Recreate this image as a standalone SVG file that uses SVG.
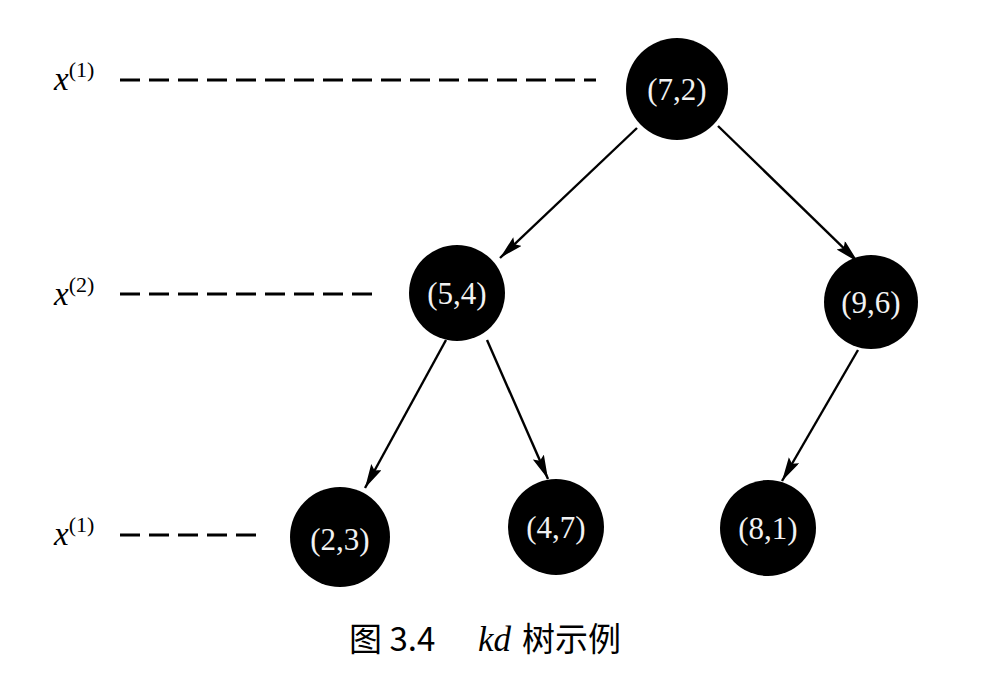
<svg xmlns="http://www.w3.org/2000/svg" width="986" height="694" viewBox="0 0 986 694">
<style>
.node{fill:#000}
.nt{fill:#f2f2f2;font-family:"Liberation Serif",serif;font-size:31px;text-anchor:middle}
.edge{stroke:#000;stroke-width:2.4;fill:none;marker-end:url(#ah)}
.dash{stroke:#000;stroke-width:2.8;stroke-dasharray:20 9;fill:none}
.lbl{font-family:"Liberation Serif",serif;font-size:33px;font-style:italic}
.sup{font-family:"Liberation Serif",serif;font-size:22px;font-style:normal}
.cap{font-family:"Noto Sans CJK SC",sans-serif;font-size:33px;font-weight:normal}
</style>
<defs>
<marker id="ah" markerWidth="26" markerHeight="14" refX="24" refY="6" orient="auto" markerUnits="userSpaceOnUse">
<path d="M0,0 L24,6 L0,12 L4,6 Z" fill="#000"/>
</marker>
</defs>
<rect width="986" height="694" fill="#fff"/>
<g id="levels">
<text class="lbl" x="54" y="90">x<tspan class="sup" dy="-13">(1)</tspan></text>
<line class="dash" x1="120" y1="80" x2="596" y2="80"/>
<text class="lbl" x="54" y="305">x<tspan class="sup" dy="-13">(2)</tspan></text>
<line class="dash" x1="120" y1="294" x2="378" y2="294"/>
<text class="lbl" x="54" y="545">x<tspan class="sup" dy="-13">(1)</tspan></text>
<line class="dash" x1="120" y1="535" x2="262" y2="535"/>
</g>
<g id="connectors">
<line class="edge" x1="637" y1="128" x2="500" y2="258"/>
<line class="edge" x1="718" y1="126" x2="858" y2="262"/>
<line class="edge" x1="446" y1="340" x2="365" y2="488"/>
<line class="edge" x1="487" y1="340" x2="548" y2="479"/>
<line class="edge" x1="858" y1="350" x2="782" y2="481"/>
</g>
<g id="n72"><circle class="node" cx="677" cy="89" r="51"/><text class="nt" x="677" y="100">(7,2)</text></g>
<g id="n54"><circle class="node" cx="457" cy="293" r="48"/><text class="nt" x="457" y="304">(5,4)</text></g>
<g id="n96"><circle class="node" cx="871" cy="302" r="47"/><text class="nt" x="871" y="313">(9,6)</text></g>
<g id="n23"><circle class="node" cx="340" cy="537" r="50"/><text class="nt" x="340" y="550">(2,3)</text></g>
<g id="n47"><circle class="node" cx="556" cy="527" r="48"/><text class="nt" x="556" y="538">(4,7)</text></g>
<g id="n81"><circle class="node" cx="768" cy="528" r="48"/><text class="nt" x="768" y="539">(8,1)</text></g>
<g id="caption">
<text class="cap" x="349" y="651">图 3.4</text>
<text x="478" y="651" font-family="Liberation Serif,serif" font-style="italic" font-size="35">kd</text>
<text class="cap" x="522" y="651">树示例</text>
</g>
</svg>
